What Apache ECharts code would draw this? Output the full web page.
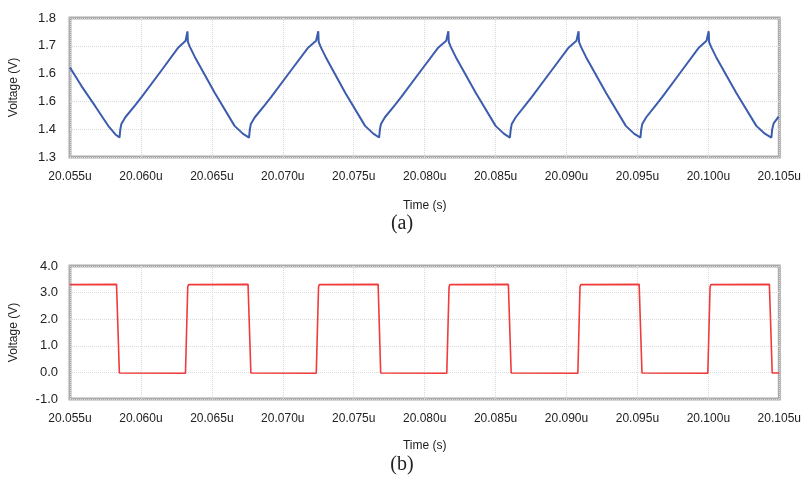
<!DOCTYPE html>
<html>
<head>
<meta charset="utf-8">
<script src="https://cdn.jsdelivr.net/npm/echarts@6/dist/echarts.min.js"></script>
<style>
html,body{margin:0;padding:0;background:#fff;}
#c{width:804px;height:479px;}
</style>
</head>
<body>
<div id="c"></div>
<script>
// Tick labels
var xTickLabels = ['20.055u','20.060u','20.065u','20.070u','20.075u','20.080u','20.085u','20.090u','20.095u','20.100u','20.105u'];
var yTickLabelsTop = ['1.3','1.4','1.6','1.6','1.7','1.8'];
var yTickLabelsBottom = ['-1.0','0.0','1.0','2.0','3.0','4.0'];

// Time in ns after 20.055u ; voltage (V)
var triangleWave = [
  [0,1.622],[0.8,1.556],[1.8,1.481],[2.74,1.409],[3.2,1.381],[3.49,1.370],
  [3.55,1.400],[3.62,1.419],[3.9,1.443],[4.6,1.487],[5.07,1.517],[6.47,1.613],[7.64,1.694],[8.15,1.718],[8.26,1.722],[8.28,1.752],[8.31,1.714],[8.45,1.696],[8.8,1.660],[10.2,1.531],[11.6,1.412],[12.18,1.384],[12.62,1.370],
  [12.68,1.400],[12.75,1.419],[13.03,1.443],[13.73,1.487],[14.2,1.517],[15.6,1.613],[16.8,1.694],[17.35,1.718],[17.47,1.722],[17.5,1.752],[17.53,1.714],[17.67,1.696],[18.02,1.660],[19.4,1.531],[20.8,1.412],[21.38,1.384],[21.79,1.370],
  [21.85,1.400],[21.92,1.419],[22.2,1.443],[22.9,1.487],[23.37,1.517],[24.77,1.613],[25.97,1.694],[26.52,1.718],[26.64,1.722],[26.67,1.752],[26.70,1.714],[26.84,1.696],[27.19,1.660],[28.6,1.531],[30.0,1.412],[30.58,1.384],[31.01,1.370],
  [31.07,1.400],[31.14,1.419],[31.42,1.443],[32.1,1.487],[32.57,1.517],[33.97,1.613],[35.16,1.694],[35.7,1.718],[35.82,1.722],[35.85,1.752],[35.88,1.714],[36.02,1.696],[36.37,1.660],[37.78,1.531],[39.18,1.412],[39.76,1.384],[40.21,1.370],
  [40.27,1.400],[40.34,1.419],[40.62,1.443],[41.3,1.487],[41.77,1.517],[43.16,1.613],[44.34,1.694],[44.87,1.718],[44.99,1.722],[45.02,1.752],[45.05,1.714],[45.19,1.696],[45.54,1.660],[46.96,1.531],[48.38,1.412],[48.98,1.384],[49.44,1.370],
  [49.5,1.400],[49.6,1.421],[49.95,1.445]
];

var squareWave = [
  [0,3.30],[3.28,3.31],[3.32,3.38],[3.48,-0.02],[8.14,-0.03],[8.18,-0.07],[8.30,3.22],[8.36,3.30],
  [12.55,3.31],[12.6,3.38],[12.75,-0.02],[17.36,-0.03],[17.4,-0.07],[17.52,3.22],[17.58,3.30],
  [21.72,3.31],[21.76,3.38],[21.9,-0.02],[26.56,-0.03],[26.6,-0.07],[26.72,3.22],[26.78,3.30],
  [30.9,3.31],[30.94,3.38],[31.1,-0.02],[35.8,-0.03],[35.84,-0.07],[35.95,3.22],[36.01,3.30],
  [40.12,3.31],[40.17,3.38],[40.32,-0.02],[44.96,-0.03],[45.0,-0.07],[45.12,3.22],[45.18,3.30],
  [49.3,3.31],[49.37,3.38],[49.5,-0.02],[50,-0.02]
];

var chart = echarts.init(document.getElementById('c'), null, {renderer:'canvas'});
var FONT = '"Liberation Sans", Arial, sans-serif';
var gridLine = {show:true, lineStyle:{color:'#dadada', type:'dotted', width:1}};
function xAxisCfg(idx){
  return {
    type:'value', gridIndex:idx, min:0, max:50, interval:5,
    name:'Time (s)', nameLocation:'middle', nameGap:idx===0?43:41,
    nameTextStyle:{fontFamily:FONT, fontSize:12, color:'#222'},
    axisLine:{show:false}, axisTick:{show:false},
    axisLabel:{fontFamily:FONT, fontSize:12, color:'#222', margin:14,
      formatter:function(v){ return xTickLabels[Math.round(v/5)]; }},
    splitLine:gridLine
  };
}
var option = {
  animation:false,
  backgroundColor:'#fff',
  grid:[
    {left:67, right:20, top:18, bottom:322, show:true, borderColor:'#ababab', borderWidth:3, backgroundColor:'#fff'},
    {left:67, right:22, top:266, bottom:80, show:true, borderColor:'#ababab', borderWidth:3, backgroundColor:'#fff'}
  ],
  xAxis:[xAxisCfg(0), xAxisCfg(1)],
  yAxis:[
    {type:'value', gridIndex:0, min:1.3, max:1.8, interval:0.1,
     name:'Voltage (V)', nameLocation:'middle', nameGap:50, nameRotate:90,
     nameTextStyle:{fontFamily:FONT, fontSize:12, color:'#222'},
     axisLine:{show:false}, axisTick:{show:false},
     axisLabel:{fontFamily:FONT, fontSize:13, color:'#222', margin:14,
       formatter:function(v){ return yTickLabelsTop[Math.round((v-1.3)/0.1)]; }},
     splitLine:gridLine},
    {type:'value', gridIndex:1, min:-1, max:4, interval:1,
     name:'Voltage (V)', nameLocation:'middle', nameGap:50, nameRotate:90,
     nameTextStyle:{fontFamily:FONT, fontSize:12, color:'#222'},
     axisLine:{show:false}, axisTick:{show:false},
     axisLabel:{fontFamily:FONT, fontSize:13, color:'#222', margin:12,
       formatter:function(v){ return yTickLabelsBottom[Math.round(v+1)]; }},
     splitLine:gridLine}
  ],
  series:[
    {type:'line', xAxisIndex:0, yAxisIndex:0, data:triangleWave, showSymbol:false, smooth:false,
     lineStyle:{color:'#3c5cad', width:2}},
    {type:'line', xAxisIndex:1, yAxisIndex:1, data:squareWave, showSymbol:false, smooth:false,
     lineStyle:{color:'#ef3b3b', width:1.6}}
  ],
  graphic:[
    {type:'text', left:'center', top:214, style:{text:'(a)', font:'20px "Liberation Serif", "Times New Roman", serif', fill:'#222'}},
    {type:'text', left:'center', top:455, style:{text:'(b)', font:'20px "Liberation Serif", "Times New Roman", serif', fill:'#222'}}
  ]
};
chart.setOption(option);
</script>
</body>
</html>
